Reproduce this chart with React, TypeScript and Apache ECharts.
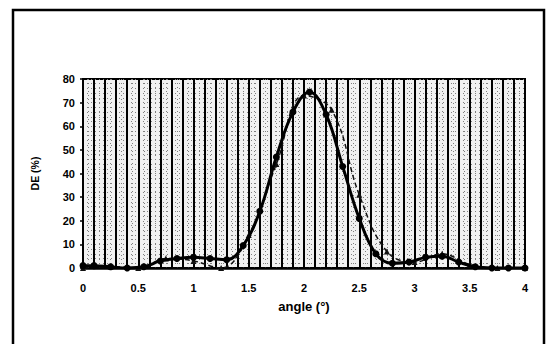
import React, { useEffect, useRef } from "react";
import * as echarts from "echarts";

const xTicks = [0, 0.5, 1, 1.5, 2, 2.5, 3, 3.5, 4];
const yTicks = [0, 10, 20, 30, 40, 50, 60, 70, 80];

const measuredX = [0, 0.1, 0.25, 0.4, 0.55, 0.7, 0.85, 1.0, 1.15, 1.3, 1.45, 1.6, 1.75, 1.9, 2.05, 2.2, 2.35, 2.5, 2.65, 2.8, 2.95, 3.1, 3.25, 3.4, 3.55, 3.7, 3.85, 4.0];
const measuredY = [1, 1, 0.5, 0, 0.5, 3, 4, 4.5, 4, 3.5, 9.5, 24, 47, 66, 74.5, 65, 43, 21, 6, 2, 2.5, 4.5, 5, 2.5, 0.5, 0, 0, 0];

const theoryX = [0, 0.25, 0.5, 0.75, 1.0, 1.25, 1.5, 1.75, 2.0, 2.25, 2.5, 2.75, 3.0, 3.25, 3.5, 3.75, 4.0];
const theoryY = [0, 0.5, 0, 4, 3, 0, 14, 44, 73, 67, 31, 7, 2.5, 6, 1.5, 0, 0];

const font = "'Liberation Sans', Arial, sans-serif";

export default function App() {
  const ref = useRef<HTMLDivElement>(null);
  useEffect(() => {
    if (!ref.current) return;
    const chart = echarts.init(ref.current, null, { renderer: "svg" });
    const dotted = { color: "#808080", width: 1, type: [1, 3] as any };
    chart.setOption({
      animation: false,
      backgroundColor: "#ffffff",
      grid: {
        left: 83,
        right: 22,
        top: 79,
        bottom: 76,
        show: true,
        backgroundColor: "#f1f1f1",
        borderColor: "#000",
        borderWidth: 2,
      },
      xAxis: [
        {
          type: "value",
          min: 0,
          max: 4,
          interval: 0.5,
          name: "angle (°)",
          nameLocation: "middle",
          nameGap: 32,
          nameTextStyle: { fontFamily: font, fontWeight: "bold", fontSize: 13, color: "#000" },
          axisLine: { show: true, lineStyle: { color: "#000", width: 2.5 } },
          axisTick: { show: false },
          axisLabel: {
            margin: 14,
            fontFamily: font,
            fontWeight: "bold",
            fontSize: 11,
            color: "#000",
            formatter: (v: number) => (xTicks.includes(v) ? String(v) : ""),
          },
          splitLine: { show: true, lineStyle: { color: "#000", width: 2 } },
          minorTick: { show: false, splitNumber: 5 },
          minorSplitLine: { show: true, lineStyle: { color: "#000", width: 2 } },
        },
        {
          type: "value",
          min: 0,
          max: 4,
          interval: 0.1,
          position: "bottom",
          axisLine: { show: false },
          axisTick: { show: false },
          axisLabel: { show: false },
          splitLine: { show: false },
          minorTick: { show: false, splitNumber: 2 },
          minorSplitLine: { show: true, lineStyle: dotted },
        },
      ],
      yAxis: {
        type: "value",
        min: 0,
        max: 80,
        interval: 10,
        name: "DE (%)",
        nameLocation: "middle",
        nameGap: 43,
        nameRotate: 90,
        nameTextStyle: { fontFamily: font, fontWeight: "bold", fontSize: 10.5, color: "#000" },
        axisLine: { show: true, lineStyle: { color: "#000", width: 2 } },
        axisTick: { show: true, length: 3, lineStyle: { color: "#000", width: 1.5 } },
        axisLabel: {
          margin: 8,
          fontFamily: font,
          fontWeight: "bold",
          fontSize: 11,
          color: "#000",
          formatter: (v: number) => (yTicks.includes(v) ? String(v) : ""),
        },
        splitLine: { show: true, lineStyle: dotted },
        minorTick: { show: false, splitNumber: 5 },
        minorSplitLine: { show: true, lineStyle: dotted },
      },
      graphic: [
        {
          type: "rect",
          shape: { x: 13, y: 10, width: 531, height: 340 },
          style: { fill: "none", stroke: "#000", lineWidth: 2.5 },
          silent: true,
        },
      ],
      series: [
        {
          type: "line",
          name: "theory",
          xAxisIndex: 0,
          smooth: 0.4,
          data: theoryX.map((x, i) => [x, theoryY[i]]),
          lineStyle: { color: "#111", width: 1.5, type: [5, 3] },
          symbol: "triangle",
          symbolSize: 6,
          itemStyle: { color: "#111" },
          z: 3,
        },
        {
          type: "line",
          name: "measured",
          xAxisIndex: 0,
          smooth: 0.4,
          data: measuredX.map((x, i) => [x, measuredY[i]]),
          lineStyle: { color: "#000", width: 3 },
          symbol: "circle",
          symbolSize: 7,
          itemStyle: { color: "#000" },
          z: 4,
        },
      ],
    });
    return () => chart.dispose();
  }, []);
  return (
    <div
      ref={ref}
      style={{ position: "fixed", left: 0, top: 0, width: 547, height: 344, background: "#fff" }}
    />
  );
}
